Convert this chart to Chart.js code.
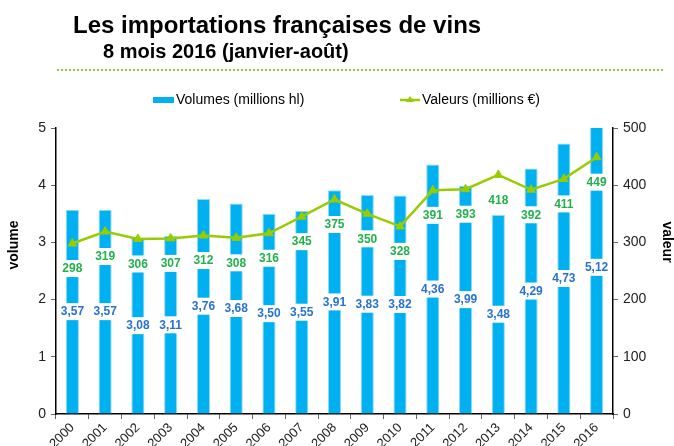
<!DOCTYPE html>
<html>
<head>
<meta charset="utf-8">
<script src="https://cdn.jsdelivr.net/npm/chart.js@4.4.0/dist/chart.umd.min.js"></script>
<style>
  html, body { margin: 0; padding: 0; background: #fff; }
  #wrap { position: relative; width: 674px; height: 446px; }
</style>
</head>
<body>
<div id="wrap"><canvas id="chart" width="674" height="446"></canvas></div>
<script>
// Données
const annees = ['2000', '2001', '2002', '2003', '2004', '2005', '2006', '2007', '2008',
                '2009', '2010', '2011', '2012', '2013', '2014', '2015', '2016'];
const volumes = [3.57, 3.57, 3.08, 3.11, 3.76, 3.68, 3.50, 3.55, 3.91,
                 3.83, 3.82, 4.36, 3.99, 3.48, 4.29, 4.73, 5.12];
const valeurs = [298, 319, 306, 307, 312, 308, 316, 345, 375,
                 350, 328, 391, 393, 418, 392, 411, 449];
const ticksVolume = [0, 1, 2, 3, 4, 5];
const ticksValeur = [0, 100, 200, 300, 400, 500];

const titre = 'Les importations françaises de vins';
const sousTitre = '8 mois 2016 (janvier-août)';
const legendeVolumes = 'Volumes (millions hl)';
const legendeValeurs = 'Valeurs (millions €)';

const BLEU = '#00B0F0';
const VERT = '#99CC00';
const FONT = '"Liberation Sans", Arial, sans-serif';

// Titre, légende, titres d'axes et étiquettes
const habillage = {
    id: 'habillage',
    afterDraw(chart) {
        const ctx = chart.ctx;
        ctx.save();

        // titres
        ctx.fillStyle = '#000';
        ctx.textAlign = 'left';
        ctx.textBaseline = 'alphabetic';
        ctx.font = 'bold 24px ' + FONT;
        ctx.fillText(titre, 73, 33);
        ctx.font = 'bold 20px ' + FONT;
        ctx.fillText(sousTitre, 103, 58);

        // ligne pointillée
        ctx.strokeStyle = '#8DC641';
        ctx.lineWidth = 2;
        ctx.setLineDash([2, 2]);
        ctx.beginPath();
        ctx.moveTo(57, 70);
        ctx.lineTo(664, 70);
        ctx.stroke();
        ctx.setLineDash([]);

        // légende
        ctx.fillStyle = BLEU;
        ctx.fillRect(153, 97, 21, 6);
        ctx.strokeStyle = VERT;
        ctx.lineWidth = 2.5;
        ctx.beginPath();
        ctx.moveTo(400, 100);
        ctx.lineTo(420, 100);
        ctx.stroke();
        ctx.fillStyle = VERT;
        ctx.beginPath();
        ctx.moveTo(410, 96);
        ctx.lineTo(414, 102);
        ctx.lineTo(406, 102);
        ctx.closePath();
        ctx.fill();
        ctx.fillStyle = '#000';
        ctx.font = '14px ' + FONT;
        ctx.textBaseline = 'middle';
        ctx.fillText(legendeVolumes, 176, 100);
        ctx.fillText(legendeValeurs, 422, 100);

        // titres d'axes
        ctx.font = 'bold 14px ' + FONT;
        ctx.textAlign = 'center';
        ctx.save();
        ctx.translate(14, 245);
        ctx.rotate(-Math.PI / 2);
        ctx.fillText('volume', 0, 0);
        ctx.restore();
        ctx.save();
        ctx.translate(667, 242);
        ctx.rotate(Math.PI / 2);
        ctx.fillText('valeur', 0, 0);
        ctx.restore();

        // étiquettes de données
        ctx.font = 'bold 12px ' + FONT;
        const etiquette = (txt, x, y, couleur) => {
            const w = ctx.measureText(txt).width + 6;
            ctx.fillStyle = '#fff';
            ctx.fillRect(x - w / 2, y - 8.5, w, 17);
            ctx.fillStyle = couleur;
            ctx.fillText(txt, x, y + 0.5);
        };
        const barres = chart.getDatasetMeta(0).data;
        barres.forEach((b, i) => {
            etiquette(volumes[i].toFixed(2).replace('.', ','), b.x, (b.y + b.base) / 2, '#2A72D2');
        });
        const points = chart.getDatasetMeta(1).data;
        points.forEach((p, i) => {
            etiquette(String(valeurs[i]), p.x, p.y + 25, '#22B14C');
        });

        ctx.restore();
    }
};

new Chart(document.getElementById('chart'), {
    data: {
        labels: annees,
        datasets: [
            {
                type: 'bar',
                label: legendeVolumes,
                data: volumes,
                yAxisID: 'y',
                backgroundColor: BLEU,
                borderColor: '#8FDAF7',
                borderWidth: 1,
                barPercentage: 0.4,
                categoryPercentage: 1,
                order: 2
            },
            {
                type: 'line',
                label: legendeValeurs,
                data: valeurs,
                yAxisID: 'y1',
                borderColor: VERT,
                backgroundColor: VERT,
                borderWidth: 2.5,
                pointStyle: 'triangle',
                pointRadius: 5,
                pointBorderWidth: 1,
                tension: 0,
                order: 1
            }
        ]
    },
    options: {
        responsive: false,
        animation: false,
        layout: { padding: { top: 128, left: 0, right: 0, bottom: 0 } },
        plugins: {
            legend: { display: false },
            title: { display: false },
            tooltip: { enabled: false }
        },
        scales: {
            x: {
                grid: { display: true, drawOnChartArea: false, tickLength: 5, color: '#666', offset: true },
                border: { color: '#000', width: 1.5 },
                ticks: { font: { family: FONT, size: 13 }, color: '#222', minRotation: 45, maxRotation: 45, padding: 1 },
                afterFit(scale) { scale.height = 32; }
            },
            y: {
                position: 'left',
                min: 0,
                max: 5,
                afterBuildTicks(scale) { scale.ticks = ticksVolume.map(v => ({ value: v })); },
                grid: { drawOnChartArea: false, tickLength: 5, color: '#666' },
                border: { color: '#000', width: 1.5 },
                ticks: { font: { family: FONT, size: 14 }, color: '#222', padding: 5 },
                afterFit(scale) { scale.width = 56; }
            },
            y1: {
                position: 'right',
                min: 0,
                max: 500,
                afterBuildTicks(scale) { scale.ticks = ticksValeur.map(v => ({ value: v })); },
                grid: { drawOnChartArea: false, tickLength: 5, color: '#666' },
                border: { color: '#000', width: 1.5 },
                ticks: { font: { family: FONT, size: 14 }, color: '#222', padding: 5 },
                afterFit(scale) { scale.width = 61; }
            }
        }
    },
    plugins: [habillage]
});
</script>
</body>
</html>
